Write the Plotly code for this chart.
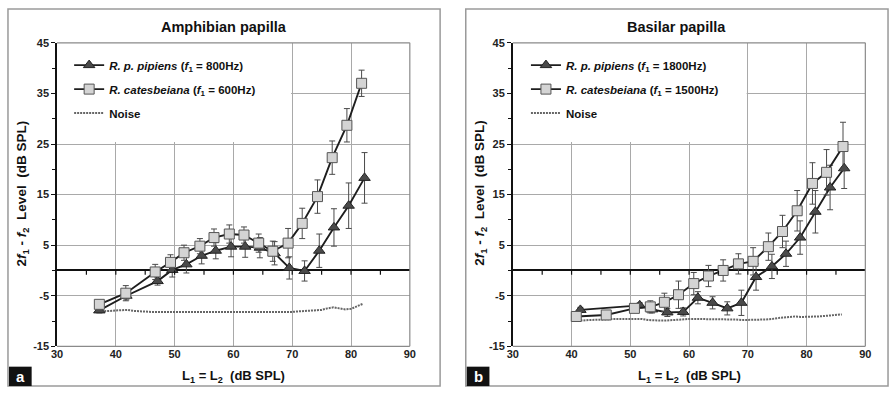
import plotly.graph_objects as go

# ---------------- data ----------------
# Panel a: Amphibian papilla
a_pip_x = [37.2, 41.8, 47.1, 49.6, 52.0, 54.6, 57.0, 59.6, 62.0, 64.5, 67.0, 69.5, 72.1, 74.6, 77.1, 79.6, 82.3]
a_pip_y = [-7.9, -5.0, -2.1, 0.1, 1.2, 2.9, 3.9, 4.7, 4.7, 4.5, 3.4, 0.5, -0.1, 3.9, 8.5, 12.8, 18.3]
a_pip_e = [0.5, 0.8, 0.8, 1.4, 1.7, 1.6, 1.6, 2.0, 2.1, 2.0, 2.3, 2.2, 2.0, 3.3, 3.7, 4.5, 5.0]

a_cat_x = [37.2, 41.7, 46.7, 49.3, 51.6, 54.3, 56.7, 59.3, 61.8, 64.3, 66.7, 69.3, 71.7, 74.3, 76.8, 79.3, 81.8]
a_cat_y = [-6.7, -4.5, -0.3, 1.6, 3.5, 4.8, 6.5, 7.2, 7.0, 5.4, 3.8, 5.4, 9.3, 14.6, 22.3, 28.7, 37.0]
a_cat_e = [0.5, 1.5, 1.5, 1.5, 1.5, 1.5, 1.7, 1.8, 1.6, 1.8, 2.0, 2.9, 3.0, 3.3, 3.3, 3.3, 2.6]

a_noise_x = list(range(37, 83))
a_noise_y = [-8.1, -8.1, -8.0, -7.9, -7.8, -7.8, -8.0, -8.1, -8.1, -8.2, -8.2, -8.2, -8.2, -8.3,
             -8.3, -8.3, -8.3, -8.3, -8.3, -8.3, -8.2, -8.2, -8.2, -8.2, -8.3, -8.3, -8.3, -8.3,
             -8.2, -8.3, -8.3, -8.3, -8.3, -8.2, -8.1, -8.0, -8.0, -7.9, -7.8, -7.5, -7.3, -7.5,
             -7.7, -7.6, -7.1, -6.6]

# Panel b: Basilar papilla
b_pip_x = [41.5, 51.6, 53.7, 56.3, 59.0, 61.5, 64.0, 66.5, 68.9, 71.4, 74.1, 76.5, 78.9, 81.5, 84.0, 86.4]
b_pip_y = [-7.8, -6.9, -7.7, -8.3, -8.2, -5.4, -6.4, -7.5, -6.4, -1.3, 0.8, 3.3, 6.5, 11.6, 16.4, 20.2]
b_pip_e = [0.5, 0.5, 0.7, 0.8, 0.8, 1.2, 1.2, 1.3, 2.5, 2.6, 2.4, 2.5, 3.3, 4.2, 4.4, 4.0]

b_cat_x = [40.8, 45.9, 50.7, 53.4, 55.8, 58.2, 60.8, 63.3, 65.8, 68.4, 70.9, 73.5, 75.9, 78.4, 81.0, 83.4, 86.2]
b_cat_y = [-9.1, -8.8, -7.5, -7.2, -6.3, -4.8, -2.6, -1.1, 0.0, 1.3, 1.8, 4.7, 7.7, 11.8, 17.2, 19.4, 24.5]
b_cat_e = [0.5, 0.5, 0.7, 1.2, 1.8, 2.7, 2.2, 2.1, 2.1, 2.0, 2.7, 2.7, 3.2, 4.0, 4.1, 4.5, 4.8]

b_noise_x = list(range(41, 87))
b_noise_y = [-9.8, -9.9, -9.8, -9.8, -9.7, -9.7, -9.6, -9.6, -9.5, -9.5, -9.6, -9.6, -9.8, -9.9,
             -9.9, -9.9, -9.8, -9.7, -9.6, -9.6, -9.6, -9.6, -9.7, -9.7, -9.7, -9.7, -9.7, -9.7,
             -9.8, -9.8, -9.8, -9.8, -9.7, -9.6, -9.4, -9.3, -9.2, -9.1, -9.2, -9.2, -9.2, -9.1,
             -9.0, -8.9, -8.8, -8.7]

x_ticks = [30, 40, 50, 60, 70, 80, 90]
y_ticks = [-15, -5, 5, 15, 25, 35, 45]
y_tick_text = ["-15", "-5", "5", "15", "25", "35", "45"]
zero_ticks = [35, 40, 45, 50, 55, 60, 65, 70, 75, 80, 85]

titles = ["Amphibian papilla", "Basilar papilla"]
panel_letters = ["a", "b"]
legend_a = ["<i>R. p. pipiens</i> (<i>f</i><sub>1</sub> = 800Hz)",
            "<i>R. catesbeiana</i> (<i>f</i><sub>1</sub> = 600Hz)", "Noise"]
legend_b = ["<i>R. p. pipiens</i> (<i>f</i><sub>1</sub> = 1800Hz)",
            "<i>R. catesbeiana</i> (<i>f</i><sub>1</sub> = 1500Hz)", "Noise"]

# ---------------- styling ----------------
W, H = 896, 394
FONT = "Liberation Sans, Arial, sans-serif"
GRID = "#a9a9a9"
LINE = "#1e1e1e"

def px_x(p):
    return p / W

def px_y(p):
    return 1 - p / H

fig = go.Figure()

panels = [
    dict(xa="x", ya="y", leg="legend", pip=(a_pip_x, a_pip_y, a_pip_e), cat=(a_cat_x, a_cat_y, a_cat_e),
         noise=(a_noise_x, a_noise_y), names=legend_a),
    dict(xa="x2", ya="y2", leg="legend2", pip=(b_pip_x, b_pip_y, b_pip_e), cat=(b_cat_x, b_cat_y, b_cat_e),
         noise=(b_noise_x, b_noise_y), names=legend_b),
]

for i, p in enumerate(panels):
    px_, py_, pe_ = p["pip"]
    cx_, cy_, ce_ = p["cat"]
    nx_, ny_ = p["noise"]
    fig.add_trace(go.Scatter(
        x=nx_, y=ny_, mode="lines", name=p["names"][2],
        xaxis=p["xa"], yaxis=p["ya"], legend=p["leg"], legendgroup=f"p{i}c", legendrank=3,
        line=dict(color="#666666", width=2, dash="2px,1px"),
    ))
    fig.add_trace(go.Scatter(
        x=px_, y=py_, mode="lines+markers", name=p["names"][0],
        xaxis=p["xa"], yaxis=p["ya"], legend=p["leg"], legendgroup=f"p{i}a", legendrank=1,
        line=dict(color=LINE, width=1.9),
        marker=dict(symbol="triangle-up", size=10, color="#4a4a4a", line=dict(color="#222", width=1)),
        error_y=dict(type="data", array=pe_, visible=True, color="#4a4a4a", thickness=1, width=3),
    ))
    fig.add_trace(go.Scatter(
        x=cx_, y=cy_, mode="lines+markers", name=p["names"][1],
        xaxis=p["xa"], yaxis=p["ya"], legend=p["leg"], legendgroup=f"p{i}b", legendrank=2,
        line=dict(color=LINE, width=1.9),
        marker=dict(symbol="square", size=10, color="#d4d4d4", line=dict(color="#555", width=1)),
        error_y=dict(type="data", array=ce_, visible=True, color="#4a4a4a", thickness=1, width=3),
    ))

# plot-area geometry (pixels)
plot_x = [(51.7, 409.3), (513.7, 871.0)]
plot_y = (38.0, 351.0)
ydom = [px_y(plot_y[1]), px_y(plot_y[0])]

axis_common = dict(
    tickfont=dict(family=FONT, size=11, color="#222", weight="bold"),
)

layout_axes = {}
for i, (xn, yn) in enumerate([("xaxis", "yaxis"), ("xaxis2", "yaxis2")]):
    xref = "x" if i == 0 else "x2"
    yref = "y" if i == 0 else "y2"
    layout_axes[xn] = dict(
        domain=[px_x(plot_x[i][0]), px_x(plot_x[i][1])], anchor=yref,
        range=[30, 90], tickvals=x_ticks, showgrid=True, gridcolor=GRID, gridwidth=1,
        showline=False, zeroline=False, ticks="", **axis_common,
    )
    layout_axes[yn] = dict(
        domain=ydom, anchor=xref, range=[-15, 45], tickvals=y_ticks, ticktext=y_tick_text,
        showgrid=True, gridcolor=GRID, gridwidth=1,
        showline=True, linecolor="#111", linewidth=1.5,
        ticks="outside", ticklen=4, tickcolor="#111", tickwidth=1,
        minor=dict(tickvals=[-10, 0, 10, 20, 30, 40], ticks="outside", ticklen=3, tickcolor="#111", showgrid=False),
        zeroline=True, zerolinecolor="#111", zerolinewidth=2,
        **axis_common,
    )

shapes = []
annotations = []
panel_box = [(2, 440), (466, 894)]
for i in range(2):
    xref = "x" if i == 0 else "x2"
    yref = "y" if i == 0 else "y2"
    # panel frame
    shapes.append(dict(type="rect", xref="paper", yref="paper",
                       x0=px_x(panel_box[i][0]), x1=px_x(panel_box[i][1]),
                       y0=px_y(392), y1=px_y(3), line=dict(color="#9a9a9a", width=1.5), layer="below"))
    # white legend area covering grid
    shapes.append(dict(type="rect", xref=xref, yref=yref, x0=30, x1=69.8, y0=25.4, y1=45,
                       fillcolor="white", line=dict(width=0), layer="between"))
    # plot area border (top, right, bottom)
    for (x0, x1, y0, y1) in [(0, 1, 1, 1), (1, 1, 0, 1), (0, 1, 0, 0)]:
        shapes.append(dict(type="line", xref=f"{xref} domain", yref=f"{yref} domain",
                           x0=x0, x1=x1, y0=y0, y1=y1, line=dict(color="#8a8a8a", width=1.2), layer="above"))
    # ticks on zero line
    for t in zero_ticks:
        shapes.append(dict(type="line", xref=xref, yref=yref,
                           x0=t, x1=t, y0=0, y1=-0.85, line=dict(color="#111", width=1.2), layer="above"))
    # panel letter box
    shapes.append(dict(type="rect", xref="paper", yref="paper",
                       x0=px_x(panel_box[i][0] + 1), x1=px_x(panel_box[i][0] + 24),
                       y0=px_y(392), y1=px_y(372), fillcolor="#111", line=dict(width=0), layer="above"))
    annotations.append(dict(text=f"<b>{panel_letters[i]}</b>", xref="paper", yref="paper",
                            x=px_x(panel_box[i][0] + 12.5), y=px_y(382), showarrow=False,
                            font=dict(family=FONT, size=15, color="white"), xanchor="center", yanchor="middle"))
    # titles
    annotations.append(dict(text=f"<b>{titles[i]}</b>", xref="paper", yref="paper",
                            x=px_x((panel_box[i][0] + panel_box[i][1]) / 2), y=px_y(22), showarrow=False,
                            font=dict(family=FONT, size=14.5, color="#111"), xanchor="center", yanchor="middle"))
    # x title
    annotations.append(dict(text="<b>L<sub>1</sub> = L<sub>2</sub>\u00a0\u00a0(dB SPL)</b>", xref="paper", yref="paper",
                            x=px_x((plot_x[i][0] + plot_x[i][1]) / 2), y=px_y(382), showarrow=False,
                            font=dict(family=FONT, size=13, color="#111"), xanchor="center", yanchor="middle"))
    # y title
    annotations.append(dict(text="<b>2<i>f</i><sub>1</sub> - <i>f</i><sub>2</sub>\u00a0\u00a0Level\u00a0\u00a0(dB SPL)</b>",
                            xref="paper", yref="paper",
                            x=px_x(16.5 if i == 0 else 481), y=px_y(193), showarrow=False, textangle=-90,
                            font=dict(family=FONT, size=13.5, color="#111"), xanchor="center", yanchor="middle"))

legend_common = dict(
    bgcolor="rgba(0,0,0,0)", borderwidth=0,
    font=dict(family=FONT, size=11.5, color="#111", weight="bold"),
    tracegroupgap=5, xanchor="left", yanchor="top", traceorder="grouped",
)

fig.update_layout(
    width=W, height=H, margin=dict(l=0, r=0, t=0, b=0),
    paper_bgcolor="white", plot_bgcolor="white",
    showlegend=True,
    legend=dict(x=px_x(64), y=px_y(46), **legend_common),
    legend2=dict(x=px_x(527), y=px_y(46), **legend_common),
    shapes=shapes, annotations=annotations,
    **layout_axes,
)

fig.write_html(
    "out.html",
    config={"displayModeBar": False},
    post_script="document.documentElement.style.margin='0px';document.body.style.margin='0px';"
                "document.body.style.padding='0px';document.body.style.overflow='hidden';",
)
